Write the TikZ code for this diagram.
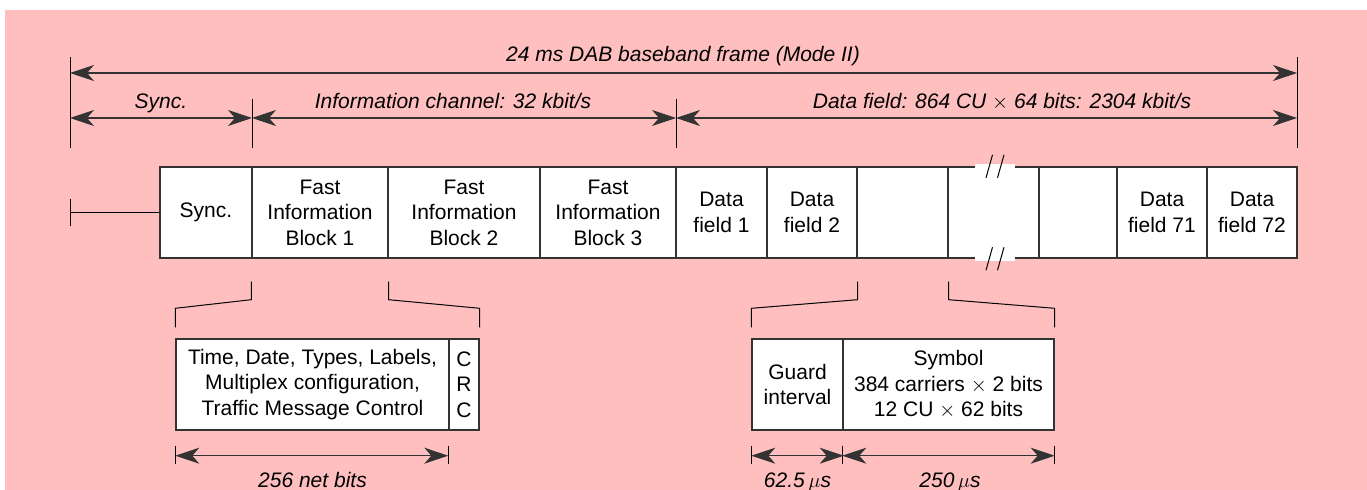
\documentclass[tikz,border=0pt]{standalone}
\usepackage{fontspec}
\setmainfont{Liberation Sans}
\usetikzlibrary{calc, arrows.meta}
\definecolor{bgpink}{HTML}{FFBFBF}
\definecolor{ink}{HTML}{333333}
\tikzset{
	cell/.style={draw=ink, fill=white, line width=1.4bp, inner sep=0pt, minimum height=91bp, align=center, font=\fontsize{21bp}{25.5bp}\selectfont},
	dim/.style={>={Stealth[length=24bp, width=16bp, inset=7bp]}, <->, line width=1.2bp, draw=ink, fill=black},
	tick/.style={line width=1bp, draw=black},
	lbl/.style={font=\fontsize{21bp}{25bp}\selectfont\itshape, inner sep=0pt, anchor=base},
}

\begin{document}
\begin{tikzpicture}[x=1bp, y=-1bp]
	\useasboundingbox (0,0) rectangle (1367,490);
	\fill[bgpink] (5,10) rectangle (1367,490);
	
	% baseband frame
	\node[cell, minimum width=92bp] (sync) at (206,212.5) {Sync.};
	\node[cell, minimum width=136bp] (fib1) at (320,212.5) {Fast\\Information\\Block 1};
	\node[cell, minimum width=152bp] (fib2) at (464,212.5) {Fast\\Information\\Block 2};
	\node[cell, minimum width=136bp] (fib3) at (608,212.5) {Fast\\Information\\Block 3};
	\node[cell, minimum width=91bp] (df1) at (721.5,212.5) {Data\\field 1};
	\node[cell, minimum width=90bp] (df2) at (812,212.5) {Data\\field 2};
	\node[cell, minimum width=91bp] (dfa) at (902.5,212.5) {};
	\node[cell, minimum width=91bp] (gap) at (993.5,212.5) {};
	\node[cell, minimum width=78bp] (dfb) at (1078,212.5) {};
	\node[cell, minimum width=90bp] (df71) at (1162,212.5) {Data\\field 71};
	\node[cell, minimum width=90bp] (df72) at (1252,212.5) {Data\\field 72};
	
	% break marks
	\fill[white] ($(gap.north)+(-18.5,-2)$) rectangle ($(gap.north)+(21.5,2)$);
	\fill[white] ($(gap.south)+(-18.5,-2)$) rectangle ($(gap.south)+(21.5,2)$);
	\foreach \dx in {-4.5,7} {
		\draw[tick] ($(gap.north)+(\dx-3,11.5)$) -- ($(gap.north)+(\dx+3.5,-11.5)$);
		\draw[tick] ($(gap.south)+(\dx-3,11.5)$) -- ($(gap.south)+(\dx+3.5,-11.5)$);
	}
	
	\coordinate (lead) at (70,212.5);
	\draw[tick] (lead) -- (sync.west);
	\draw[tick] ($(lead)+(0,-13)$) -- ($(lead)+(0,14)$);
	
	% dimension lines above
	\coordinate (tA) at (70,57);
	\coordinate (tB) at (252,99);
	\coordinate (tC) at (676,99);
	\coordinate (tD) at (1297,57);
	\foreach \c in {tA, tB, tC, tD}
		\draw[tick] (\c) -- (\c |- 0,148);
	
	\draw[dim] (tA |- 0,73) -- (tD |- 0,73);
	\draw[dim] (tA |- 0,118) -- (tB |- 0,118);
	\draw[dim] (tB |- 0,118) -- (tC |- 0,118);
	\draw[dim] (tC |- 0,118) -- (tD |- 0,118);
	
	\node[lbl] (frameLbl) at (683,62) {24 ms DAB baseband frame (Mode II)};
	\node[lbl] (syncLbl) at (161,108.5) {Sync.};
	\node[lbl] (ficLbl) at (453,108.5) {Information channel: 32 kbit/s};
	\node[lbl] (mscLbl) at (1002,108.5) {Data field: 864 CU $\times$ 64 bits: 2304 kbit/s};
	
	% expanded blocks
	\node[cell, minimum width=273bp] (fic) at (312.5,384.5) {Time, Date, Types, Labels,\\Multiplex configuration,\\Traffic Message Control};
	\node[cell, minimum width=30bp] (crc) at (464,384.5) {C\\R\\C};
	\node[cell, minimum width=91bp] (guard) at (797.5,384.5) {Guard\\interval};
	\node[cell, minimum width=211bp] (symbol) at (948.5,384.5) {Symbol\\384 carriers $\times$ 2 bits\\12 CU $\times$ 62 bits};
	
	\draw[tick] ($(fib1.south west)+(0,23)$) -- ++(0,18) -- ($(fic.north west)+(0,-30)$) -- ++(0,19);
	\draw[tick] ($(fib1.south east)+(0,23)$) -- ++(0,18) -- ($(crc.north east)+(0,-30)$) -- ++(0,19);
	\draw[tick] ($(df2.south east)+(0,23)$) -- ++(0,18) -- ($(guard.north west)+(0,-30)$) -- ++(0,19);
	\draw[tick] ($(dfa.south east)+(0,23)$) -- ++(0,18) -- ($(symbol.north east)+(0,-30)$) -- ++(0,19);
	
	% dimension lines below
	\foreach \p in {fic.south west, crc.south west, guard.south west, symbol.south west, symbol.south east}
		\draw[tick] ($(\p)+(0,15)$) -- ++(0,18);
	\draw[dim] ($(fic.south west)+(0,25)$) -- ($(crc.south west)+(0,25)$);
	\draw[dim] ($(guard.south west)+(0,25)$) -- ($(guard.south east)+(0,25)$);
	\draw[dim] ($(symbol.south west)+(0,25)$) -- ($(symbol.south east)+(0,25)$);
	
	\node[lbl] (netLbl) at ($(fic.south)+(0,57)$) {256 net bits};
	\node[lbl] (guardLbl) at ($(guard.south)+(0,57)$) {62.5\,$\mu$s};
	\node[lbl] (symLbl) at ($(symbol.south)+(1.5,57)$) {250\,$\mu$s};
\end{tikzpicture}
\end{document}
